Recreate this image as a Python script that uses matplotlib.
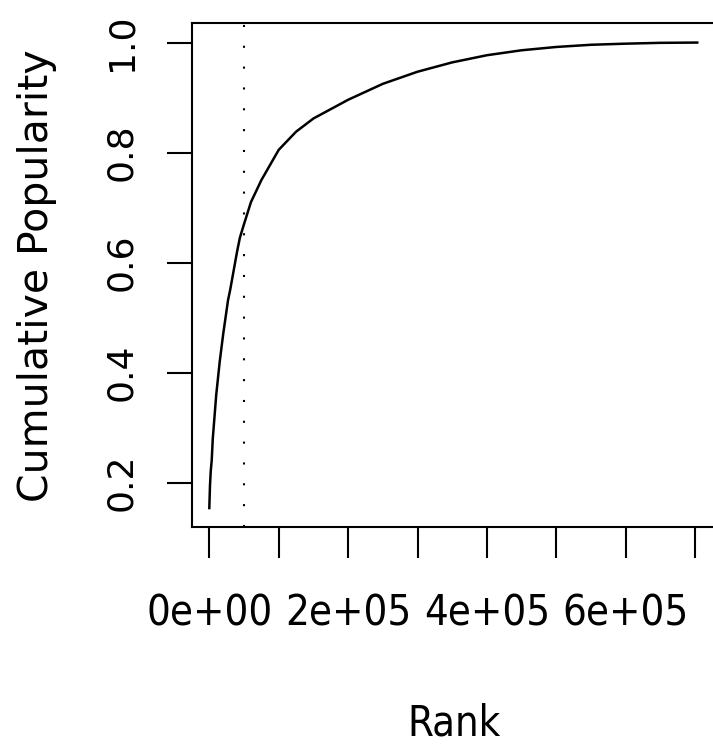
import matplotlib
matplotlib.use('Agg')
import matplotlib.pyplot as plt
from matplotlib import font_manager

# cumulative popularity
rank = [1, 1000, 2000, 3500, 5000, 7500, 10000, 15000, 20000, 27000, 30000, 40000,
        44000, 50000, 60000, 75000, 100000, 125000, 150000, 200000, 250000, 300000,
        350000, 400000, 450000, 500000, 550000, 600000, 650000, 703000]
popularity = [0.154, 0.195, 0.22, 0.241, 0.28, 0.32, 0.36, 0.42, 0.47, 0.532, 0.55, 0.62,
              0.645, 0.67, 0.71, 0.75, 0.805, 0.838, 0.862, 0.896, 0.925, 0.947,
              0.964, 0.977, 0.986, 0.992, 0.996, 0.998, 0.9995, 1.0]
cutoff = 50000

x_ticks = [0, 100000, 200000, 300000, 400000, 500000, 600000, 700000]
x_labels = ['0e+00', '', '2e+05', '', '4e+05', '', '6e+05', '']
y_ticks = [0.2, 0.4, 0.6, 0.8, 1.0]
y_labels = ['0.2', '0.4', '0.6', '0.8', '1.0']

# narrow face for the x axis text (reference looks squeezed sideways)
narrow = [f.fname for f in font_manager.fontManager.ttflist
          if f.fname.endswith('DejaVuSansCondensed.ttf')]
if narrow:
    xprop = dict(fontproperties=font_manager.FontProperties(fname=narrow[0], size=30))
else:
    xprop = dict(fontfamily='Liberation Sans', fontsize=27)

fig = plt.figure(figsize=(7.13, 7.47), dpi=100)
ax = fig.add_axes([0.2697, 0.2941, 0.7345, 0.6747])

ax.plot(rank, popularity, color='black', lw=1.8)
ax.axvline(cutoff, color='black', lw=1.5, dashes=(1, 9))

ax.set_xlim(-24500, 730000)
ax.set_ylim(0.119, 1.035)

for s in ax.spines.values():
    s.set_linewidth(1.5)

ax.set_xticks(x_ticks)
ax.set_xticklabels(x_labels, **xprop)
ax.set_yticks(y_ticks)
ax.set_yticklabels(y_labels, fontfamily='DejaVu Sans', fontsize=26, rotation=90, va='center')
ax.tick_params(axis='x', length=22, width=1.5, pad=25)
ax.tick_params(axis='y', length=18, width=1.5, pad=21)

ax.set_xlabel('Rank', **xprop)
ax.xaxis.set_label_coords(0.5, -0.39)
ax.xaxis.label.set_va('center')
ax.set_ylabel('Cumulative Popularity', fontfamily='DejaVu Sans', fontsize=29.5)
ax.yaxis.set_label_coords(-0.2966, 0.5)
ax.yaxis.label.set_va('center')

fig.savefig('out.png', dpi=100)
